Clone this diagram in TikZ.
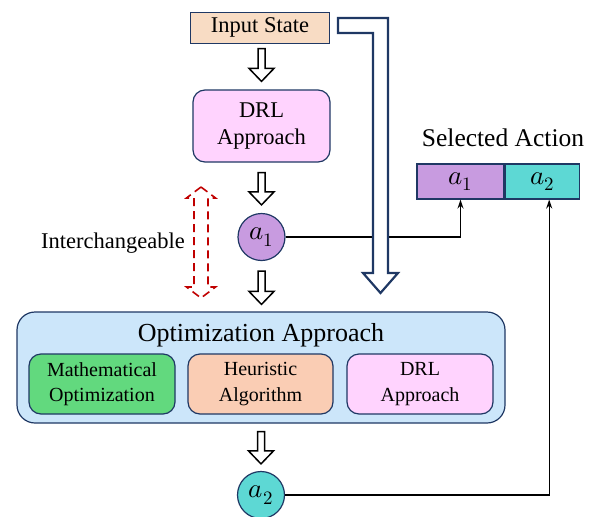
\documentclass[tikz,border=0pt]{standalone}
\usepackage{fontspec}
\usepackage{unicode-math}
\setmainfont{Liberation Serif}
\setmathfont{Latin Modern Math}
\usetikzlibrary{calc,arrows.meta}

\definecolor{navy}{HTML}{1F3864}
\definecolor{inputfill}{HTML}{F8DCC4}
\definecolor{drlfill}{HTML}{FFD3FE}
\definecolor{actone}{HTML}{C89BE0}
\definecolor{acttwo}{HTML}{5DD8D4}
\definecolor{optfill}{HTML}{CCE6FA}
\definecolor{mathfill}{HTML}{62D97E}
\definecolor{heurfill}{HTML}{FACDB4}
\definecolor{swapred}{HTML}{C00000}

% hollow block arrow pointing down, from a top point to a tip point
\newcommand\blockarrow[2]{%
  \draw[blk] let \p1=#1, \p2=#2 in
    (\x1-3.5pt,\y1) -- (\x1+3.5pt,\y1) -- (\x1+3.5pt,\y2+13pt)
    -- (\x1+12.5pt,\y2+13pt) -- (\x1,\y2) -- (\x1-12.5pt,\y2+13pt)
    -- (\x1-3.5pt,\y2+13pt) -- cycle;}

\tikzset{
  txt/.style={font=\fontsize{22.5}{27.5}\selectfont},
  small/.style={font=\fontsize{20}{25.5}\selectfont},
  box/.style={draw=navy, line width=1.2pt, align=center, inner sep=0pt},
  rbox/.style={box, rounded corners=12pt},
  act/.style={circle, draw=navy, line width=1.2pt, minimum size=47pt, inner sep=0pt,
              font=\fontsize{27}{30}\selectfont},
  cell/.style={draw=navy, line width=1.2pt, minimum height=35pt, inner sep=0pt,
              font=\fontsize{27}{30}\selectfont},
  blk/.style={draw=black, line width=1.5pt, fill=white, line join=miter},
  conn/.style={draw=black, line width=1.4pt, -{Stealth[length=9pt,width=6pt]}},
}

\begin{document}
\begin{tikzpicture}[x=1pt,y=-1pt]
\useasboundingbox (0,0) rectangle (595,517);

% main pipeline
\node[box, txt, fill=inputfill, line width=1pt, minimum width=139pt, minimum height=31pt] (in) at (260,27.5) {Input State};
\node[rbox, txt, fill=drlfill, minimum width=137pt, minimum height=72pt] (drl) at (261.5,126) {DRL\\Approach};
\node[act, fill=actone] (a1) at (261.5,237) {$a_1$};

\node[box, fill=optfill, rounded corners=18pt, minimum width=488pt, minimum height=111pt] (opt) at (261,367.5) {};
\node[font=\fontsize{26}{30}\selectfont] (optt) at (261,335) {Optimization Approach};
\node[rbox, small, fill=mathfill, minimum width=146pt, minimum height=60pt] (math) at (102,384) {Mathematical\\Optimization};
\node[rbox, small, fill=heurfill, minimum width=145pt, minimum height=60pt] (heur) at (260.5,384) {Heuristic\\Algorithm};
\node[rbox, small, fill=drlfill, minimum width=146pt, minimum height=60pt] (drl2) at (420,384) {DRL\\Approach};

\node[act, fill=acttwo] (a2) at (261,495) {$a_2$};

% selected action
\node[font=\fontsize{25.5}{30}\selectfont] (sel) at (503,138) {Selected Action};
\node[cell, fill=actone, minimum width=87pt] (c1) at (460.5,181.5) {$a_1$};
\node[cell, fill=acttwo, minimum width=74pt, anchor=west] (c2) at (c1.east) {$a_2$};

% interchangeable marker
\node[txt] (ich) at (113,243) {Interchangeable};
\draw[swapred, line width=1.6pt, dash pattern=on 8pt off 5pt]
  (201,187) -- (215.5,198) -- (208,198) -- (208,287) -- (215.5,287) -- (201,298)
  -- (186.5,287) -- (194,287) -- (194,198) -- (186.5,198) -- cycle;

% block arrows between stages
\blockarrow{($(in.south)+(1.5,5)$)}{($(drl.north)+(0,-8)$)}
\blockarrow{($(drl.south)+(0,10)$)}{($(a1.north)+(0,-8)$)}
\blockarrow{($(a1.south)+(0,10)$)}{($(opt.north)+(0,-7)$)}
\blockarrow{($(opt.south)+(0,8)$)}{($(a2.north)+(0,-7)$)}

% outputs to the selected action
\draw[conn] (a1.east) -| (c1.south);
\coordinate (c2in) at ($(c2.south)+(7,0)$);
\draw[conn] (a2.east) -| (c2in);

% input state bypass arrow
\draw[navy, line width=2.2pt, fill=white, line join=miter]
  ($(in.east)+(8,-9.5)$) -- (388,18) -- (388,273) -- (398,273) -- (380.5,293)
  -- (363,273) -- (373,273) -- (373,33) -- ($(in.east)+(8,5.5)$) -- cycle;
\end{tikzpicture}
\end{document}
